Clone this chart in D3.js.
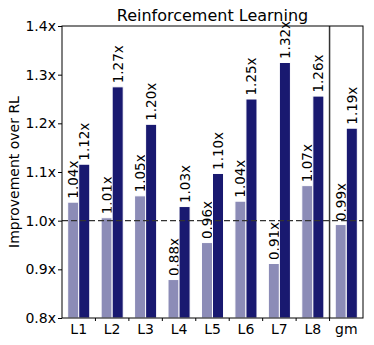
<!DOCTYPE html>
<html>
<head>
<meta charset="utf-8">
<script src="https://d3js.org/d3.v7.min.js"></script>
<style>
  body { margin: 0; background: #fff; }
  text { font-family: "DejaVu Sans", sans-serif; fill: #000; }
</style>
</head>
<body>
<div id="chart"></div>
<script>

// Data
var categories = ["L1", "L2", "L3", "L4", "L5", "L6", "L7", "L8", "gm"];
var baseVals   = [1.038, 1.006, 1.051, 0.879, 0.955, 1.040, 0.912, 1.072, 0.992];
var tunedVals  = [1.116, 1.275, 1.198, 1.029, 1.097, 1.250, 1.325, 1.256, 1.190];
var baseLabels  = ["1.04x", "1.01x", "1.05x", "0.88x", "0.96x", "1.04x", "0.91x", "1.07x", "0.99x"];
var tunedLabels = ["1.12x", "1.27x", "1.20x", "1.03x", "1.10x", "1.25x", "1.32x", "1.26x", "1.19x"];
var yTicks = [0.8, 0.9, 1.0, 1.1, 1.2, 1.3, 1.4];

var width = 374, height = 345;
var mLeft = 62, mRight = 363, mTop = 26, mBottom = 318;

var svg = d3.select("#chart").append("svg")
  .attr("width", width)
  .attr("height", height);

var x = d3.scaleBand().domain(categories).range([mLeft, mRight]).padding(0);
var y = d3.scaleLinear().domain([0.8, 1.4]).range([mBottom, mTop]);

var barW = x.bandwidth() * 0.33;
var light = "#8c8cb7", dark = "#191970";

// les barres
var groups = categories.map(function(c, i) {
  return {cat: c, base: baseVals[i], tuned: tunedVals[i], bl: baseLabels[i], tl: tunedLabels[i]};
});

function drawBars(key, lab, offset, color) {
  svg.selectAll("rect." + key)
    .data(groups)
    .enter().append("rect")
      .attr("class", key)
      .attr("x", d => x(d.cat) + x.bandwidth() / 2 + offset)
      .attr("y", d => y(d[key]))
      .attr("width", barW)
      .attr("height", d => y(0.8) - y(d[key]))
      .attr("fill", color)
      .attr("stroke", "#fff")
      .attr("stroke-width", 1);

  svg.selectAll("text." + key)
    .data(groups)
    .enter().append("text")
      .attr("class", key)
      .attr("transform", d => "translate(" + (x(d.cat) + x.bandwidth() / 2 + offset + barW / 2 + 5) + "," + (y(d[key]) - 3.5) + ") rotate(-90)")
      .attr("font-size", 13.5)
      .text(d => d[lab]);
}
drawBars("base", "bl", -barW, light);
drawBars("tuned", "tl", 0, dark);

// ligne pointillée à 1.0
svg.append("line")
  .attr("x1", mLeft).attr("x2", mRight)
  .attr("y1", y(1.0)).attr("y2", y(1.0))
  .attr("stroke", "#333").attr("stroke-width", 1.2)
  .attr("stroke-dasharray", "6,3");

// séparation avant gm
svg.append("line")
  .attr("x1", x("gm")).attr("x2", x("gm"))
  .attr("y1", mTop).attr("y2", mBottom)
  .attr("stroke", "#333").attr("stroke-width", 1.5);

// axe y
var yAxis = d3.axisLeft(y).tickValues(yTicks).tickSize(4).tickPadding(2)
  .tickFormat(d => d3.format(".1f")(d) + "x");
svg.append("g")
  .attr("transform", "translate(" + mLeft + ",0)")
  .call(yAxis)
  .call(g => g.select(".domain").remove())
  .call(g => g.selectAll("text").attr("font-size", 14).attr("font-family", "DejaVu Sans"));

// axe x : étiquettes au centre, petites graduations aux bords
var xAxis = d3.axisBottom(x).tickSize(0).tickPadding(6);
svg.append("g")
  .attr("transform", "translate(0," + mBottom + ")")
  .call(xAxis)
  .call(g => g.select(".domain").remove())
  .call(g => g.selectAll("text").attr("font-size", 14).attr("font-family", "DejaVu Sans"));

svg.selectAll("line.edge")
  .data(categories.slice(1))
  .enter().append("line")
    .attr("class", "edge")
    .attr("x1", d => x(d)).attr("x2", d => x(d))
    .attr("y1", mBottom).attr("y2", mBottom + 3)
    .attr("stroke", "#000");

// cadre
svg.append("rect")
  .attr("x", mLeft).attr("y", mTop)
  .attr("width", mRight - mLeft).attr("height", mBottom - mTop)
  .attr("fill", "none").attr("stroke", "#000").attr("stroke-width", 1);

// titre et label y
svg.append("text")
  .attr("x", (mLeft + mRight) / 2).attr("y", 21)
  .attr("text-anchor", "middle")
  .attr("font-size", 16)
  .text("Reinforcement Learning");

svg.append("text")
  .attr("transform", "translate(19," + ((mTop + mBottom) / 2) + ") rotate(-90)")
  .attr("text-anchor", "middle")
  .attr("font-size", 14)
  .text("Improvement over RL");

</script>
</body>
</html>
